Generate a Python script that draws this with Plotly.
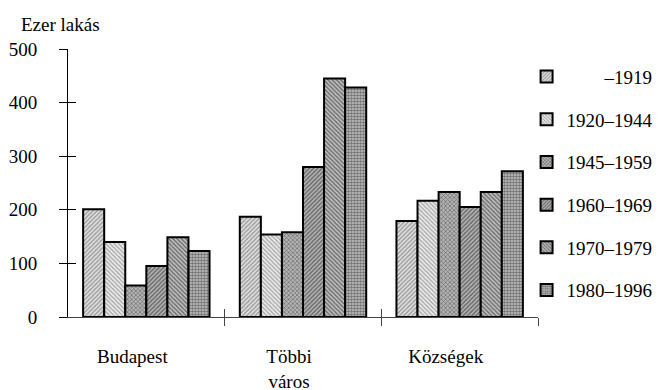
import plotly.graph_objects as go

categories = ["Budapest", "Többi<br>város", "Községek"]
periods = ["\u00a0\u00a0\u00a0\u00a0\u00a0\u00a0\u00a0\u00a0–1919", "1920–1944", "1945–1959", "1960–1969", "1970–1979", "1980–1996"]
v_1919 = [201, 187, 179]
v_1944 = [140, 154, 217]
v_1959 = [59, 158, 233]
v_1969 = [95, 280, 205]
v_1979 = [149, 445, 233]
v_1996 = [123, 428, 272]
series = [v_1919, v_1944, v_1959, v_1969, v_1979, v_1996]
y_ticks = [0, 100, 200, 300, 400, 500]
boundaries = [0.5, 1.5, 2.5]

patterns = [
    dict(shape="/", fgcolor="#444444", bgcolor="#e0e0e0", size=3, solidity=0.4),
    dict(shape="\\", fgcolor="#555555", bgcolor="#ececec", size=3, solidity=0.4),
    dict(shape="x", fgcolor="#1a1a1a", bgcolor="#b4b4b4", size=3, solidity=0.4),
    dict(shape="/", fgcolor="#1a1a1a", bgcolor="#b8b8b8", size=3, solidity=0.5),
    dict(shape="\\", fgcolor="#1a1a1a", bgcolor="#c4c4c4", size=3, solidity=0.5),
    dict(shape=".", fgcolor="#1a1a1a", bgcolor="#c8c8c8", size=3, solidity=0.6),
]

FONT = "Liberation Serif, Times New Roman, serif"

fig = go.Figure()
for name, vals, pat in zip(periods, series, patterns):
    fig.add_trace(go.Bar(
        x=categories, y=vals, name=name, legendgroup=name,
        marker=dict(color="white", pattern=pat, line=dict(color="black", width=2)),
    ))

# invisible helpers so overlay axes render
fig.add_trace(go.Scatter(x=[0], y=[0], xaxis="x2", yaxis="y2", mode="markers",
                         marker=dict(opacity=0), showlegend=False, hoverinfo="skip"))
fig.add_trace(go.Scatter(x=[0], y=[0], xaxis="x3", yaxis="y", mode="markers",
                         marker=dict(opacity=0), showlegend=False, hoverinfo="skip"))

fig.update_layout(
    width=653, height=382,
    margin=dict(l=60, r=123, t=41, b=73, autoexpand=False),
    paper_bgcolor="white", plot_bgcolor="white",
    font=dict(family=FONT, size=19, color="black"),
    barmode="group", bargap=0.193, bargroupgap=0,
    showlegend=True,
    legend=dict(x=0.9757, y=0.9675, xanchor="left", yanchor="top",
                traceorder="grouped", tracegroupgap=15,
                font=dict(family=FONT, size=19), bgcolor="rgba(0,0,0,0)"),
    xaxis=dict(type="category", range=[-0.5, 2.5], showline=True, linecolor="#444",
               linewidth=1, ticks="", showgrid=False, zeroline=False,
               ticklabelshift=-14, ticklabelstandoff=22,
               tickfont=dict(family=FONT, size=19)),
    xaxis2=dict(range=[-0.5, 2.5], overlaying="x", anchor="y", side="bottom",
                tickmode="array", tickvals=boundaries, ticks="outside", ticklen=8,
                tickcolor="#444", showticklabels=False, showline=False,
                showgrid=False, zeroline=False),
    xaxis3=dict(range=[-0.5, 2.5], overlaying="x", anchor="y", side="bottom",
                tickmode="array", tickvals=boundaries, ticks="inside", ticklen=8,
                tickcolor="#444", showticklabels=False, showline=False,
                showgrid=False, zeroline=False),
    yaxis=dict(range=[0, 500], tickmode="array", tickvals=y_ticks, ticks="outside",
               ticklen=8, tickcolor="black", showline=True, linecolor="black",
               linewidth=1, showgrid=False, zeroline=False, ticklabelstandoff=18,
               tickfont=dict(family=FONT, size=19)),
    yaxis2=dict(range=[0, 500], overlaying="y", anchor="x", side="left",
                tickmode="array", tickvals=y_ticks, ticks="inside", ticklen=8,
                tickcolor="black", showticklabels=False, showline=False,
                showgrid=False, zeroline=False),
    annotations=[dict(text="Ezer lakás", xref="paper", yref="paper",
                      x=-0.104, y=1.093, xanchor="left", yanchor="middle",
                      showarrow=False, font=dict(family=FONT, size=19))],
)

fig.write_html("out.html")
